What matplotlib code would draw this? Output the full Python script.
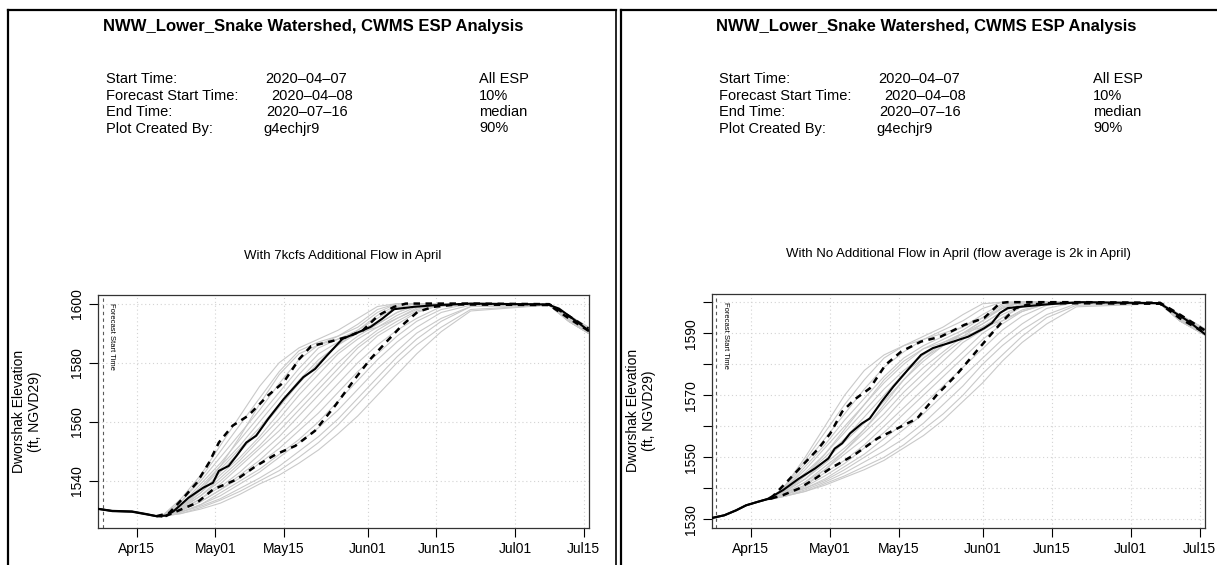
import numpy as np
import pandas as pd
import matplotlib
matplotlib.use("Agg")
import matplotlib.pyplot as plt
import matplotlib.dates as mdates
from matplotlib.lines import Line2D

plt.rcParams['font.family'] = ['Liberation Sans', 'DejaVu Sans']

W, H = 1217, 565
START = pd.Timestamp('2020-04-07')
END = pd.Timestamp('2020-07-16')
FORECAST_DAY = 1  # 2020-04-08

main_title = "NWW_Lower_Snake Watershed, CWMS ESP Analysis"
info_labels = ["Start Time:", "Forecast Start Time:", "End Time:", "Plot Created By:"]
info_values = ["2020\u201304\u201307", "2020\u201304\u201308", "2020\u201307\u201316", "g4echjr9"]
legend_labels = ["All ESP", "10%", "median", "90%"]
xtick_dates = ["2020-04-15", "2020-05-01", "2020-05-15", "2020-06-01",
               "2020-06-15", "2020-07-01", "2020-07-15"]

# ---------------- left panel data (days since 2020-04-07) ----------------
left_title = "With 7kcfs Additional Flow in April"
left_yticks = [1540, 1560, 1580, 1600]

left_obs_days = [0, 3, 7, 10, 12, 13]
left_obs_vals = [1530.6, 1529.9, 1529.7, 1528.8, 1528.1, 1528.0]

left_esp_days = [13, 17, 21, 25, 29, 33, 37, 41, 45, 49, 53, 57, 61, 65, 70, 76, 92, 96, 100]
left_esp = [
    [1528.0, 1534, 1542, 1552, 1562, 1572, 1580, 1585, 1588, 1591, 1595, 1599, 1600, 1600, 1600, 1600, 1599.8, 1596, 1592],
    [1528.0, 1533, 1541, 1550, 1559, 1568, 1577, 1584, 1587, 1589, 1592, 1597, 1600, 1600, 1600, 1600, 1599.8, 1596, 1592],
    [1528.0, 1533, 1540, 1548, 1556, 1564, 1573, 1581, 1586, 1589, 1593, 1598, 1600, 1600, 1600, 1600, 1599.7, 1595.5, 1591.5],
    [1528.0, 1532, 1539, 1546, 1554, 1562, 1570, 1578, 1585, 1588, 1591, 1596, 1599.5, 1600, 1600, 1600, 1599.7, 1595.5, 1591.5],
    [1528.0, 1532, 1538, 1545, 1552, 1560, 1568, 1576, 1583, 1587, 1590, 1594, 1598.5, 1600, 1600, 1600, 1599.6, 1595, 1591],
    [1528.0, 1531.5, 1537, 1544, 1551, 1558, 1566, 1574, 1581, 1586, 1590, 1593, 1597, 1599.5, 1600, 1600, 1599.6, 1595, 1591],
    [1528.0, 1531, 1536, 1543, 1550, 1557, 1565, 1573, 1580, 1586, 1591, 1595, 1599, 1600, 1600, 1600, 1599.6, 1595, 1591],
    [1528.0, 1531, 1536, 1542, 1548, 1555, 1563, 1571, 1578, 1584, 1589, 1593, 1597, 1599.5, 1600, 1600, 1599.6, 1595, 1591],
    [1528.0, 1531, 1535, 1541, 1547, 1554, 1561, 1569, 1576, 1583, 1588, 1592, 1596, 1599, 1600, 1600, 1599.6, 1595, 1591],
    [1528.0, 1530.5, 1535, 1540, 1546, 1552, 1559, 1566, 1573, 1580, 1586, 1591, 1595, 1598.5, 1600, 1600, 1599.5, 1594.5, 1590.5],
    [1528.0, 1530.5, 1534, 1539, 1545, 1551, 1557, 1564, 1571, 1578, 1585, 1590, 1594, 1597.5, 1599.5, 1600, 1599.5, 1594.5, 1590.5],
    [1528.0, 1530, 1534, 1538, 1543, 1549, 1555, 1562, 1569, 1576, 1583, 1589, 1593, 1597, 1599.5, 1600, 1599.5, 1594.5, 1590.5],
    [1528.0, 1530, 1533, 1537, 1542, 1547, 1553, 1559, 1566, 1573, 1580, 1586, 1591, 1595, 1599, 1600, 1599.5, 1594, 1590],
    [1528.0, 1530, 1533, 1537, 1541, 1546, 1551, 1557, 1563, 1570, 1577, 1583, 1589, 1594, 1598, 1600, 1599.5, 1594, 1590],
    [1528.0, 1529.5, 1532, 1536, 1540, 1544, 1549, 1554, 1560, 1567, 1574, 1581, 1587, 1592, 1597, 1599.5, 1599.5, 1594, 1590],
    [1528.0, 1529.5, 1532, 1535, 1539, 1543, 1548, 1553, 1558, 1564, 1571, 1578, 1584, 1590, 1595, 1599, 1599.5, 1594, 1590],
    [1528.0, 1529.5, 1531.5, 1534, 1537.5, 1541, 1545, 1550, 1555, 1561, 1568, 1575, 1582, 1588, 1594, 1599, 1599.5, 1594, 1590],
    [1528.0, 1529, 1531, 1533.5, 1536.5, 1540, 1543.5, 1548, 1553, 1559, 1566, 1573, 1580, 1586, 1592, 1598, 1599.5, 1594, 1590],
    [1528.0, 1529, 1530.5, 1532.5, 1535.5, 1539, 1542, 1546, 1550.5, 1556, 1562, 1569, 1576, 1583, 1590.5, 1597.5, 1599.5, 1594, 1590],
    [1528.0, 1531, 1537, 1545, 1555, 1566, 1576, 1583, 1586, 1588, 1590, 1592, 1595, 1598, 1600, 1600, 1599.7, 1595.5, 1591.5],
]

left_med_days = [0, 3, 7, 10, 12, 14, 15.5, 18.5, 21.5, 23.5, 24.7, 26.7, 28.3, 30.3, 32.3, 34.7,
                 37.9, 41.9, 44.3, 46.7, 49.9, 52.4, 55.6, 58, 60.4, 64.4, 68.4, 76, 91.7, 94, 97.3, 100]
left_med_vals = [1530.6, 1529.8, 1529.6, 1528.7, 1528.1, 1528.3, 1529.8, 1534.3, 1537.7, 1539.4, 1543.4,
                 1545.1, 1548.5, 1553.0, 1555.3, 1560.9, 1567.7, 1575.1, 1577.9, 1582.4, 1588.1, 1589.8,
                 1592.1, 1594.9, 1598.1, 1598.9, 1599.4, 1600.0, 1599.7, 1598.3, 1594.3, 1590.9]

left_p10_days = [12, 14.6, 17.8, 20.2, 22.7, 24.7, 27.5, 30.7, 34.7, 37.9, 41.1, 43.5, 47.5, 50.8,
                 54, 57.2, 60.4, 62.8, 76, 92, 96, 100]
left_p10_vals = [1528.1, 1529.2, 1534.9, 1539.4, 1546.2, 1553.0, 1558.7, 1562.1, 1568.9, 1573.4,
                 1581.3, 1585.6, 1587.2, 1588.7, 1590.9, 1596.0, 1598.9, 1600.0, 1600.0, 1599.8, 1595.8, 1591.5]

left_p90_days = [13.8, 16.2, 20.2, 23.5, 28.3, 32.3, 36.3, 40.3, 44.3, 48.4, 52.4, 55.6, 58.8, 62,
                 65.2, 68.4, 73.3, 92, 96, 100]
left_p90_vals = [1528.1, 1529.8, 1532.6, 1537.1, 1540.5, 1545.1, 1549.0, 1551.9, 1557.0, 1565.5,
                 1574.5, 1581.3, 1587.0, 1592.6, 1597.2, 1598.9, 1599.7, 1599.5, 1595.0, 1590.8]

# ---------------- right panel data ----------------
right_title = "With No Additional Flow in April (flow average is 2k in April)"
right_yticks = [1530, 1540, 1550, 1560, 1570, 1580, 1590, 1600]
right_ylabels = ["1530", "", "1550", "", "1570", "", "1590", ""]

right_obs_days = [0, 2.6, 5, 7, 9.3, 11.3, 12]
right_obs_vals = [1530.4, 1531.3, 1532.9, 1534.5, 1535.6, 1536.5, 1536.6]

right_esp_days = [12, 15, 19, 23, 27, 31, 35, 39, 43, 47, 51, 55, 59, 63, 68, 74, 91, 95, 100]
right_esp = [
    [1536.5, 1541, 1549, 1558, 1567, 1575, 1582, 1586, 1589, 1592, 1596, 1599.5, 1600, 1600, 1600, 1600, 1599.8, 1596, 1591.5],
    [1536.5, 1540.5, 1548, 1556, 1564, 1572, 1579, 1584, 1588, 1591, 1594, 1598, 1600, 1600, 1600, 1600, 1599.8, 1596, 1591.5],
    [1536.5, 1540, 1547, 1554, 1562, 1569, 1576, 1582, 1586, 1589, 1592, 1596, 1599.5, 1600, 1600, 1600, 1599.7, 1595.5, 1591],
    [1536.5, 1540, 1546, 1553, 1560, 1567, 1574, 1580, 1585, 1588, 1591, 1595, 1599, 1600, 1600, 1600, 1599.7, 1595.5, 1591],
    [1536.5, 1539.5, 1545, 1551, 1558, 1565, 1572, 1578, 1583, 1587, 1590, 1594, 1598, 1600, 1600, 1600, 1599.7, 1595, 1590.5],
    [1536.5, 1539.5, 1544, 1550, 1556, 1563, 1570, 1577, 1582, 1586, 1590, 1594, 1598.5, 1600, 1600, 1600, 1599.6, 1595, 1590.5],
    [1536.5, 1539, 1543, 1549, 1555, 1561, 1568, 1575, 1581, 1586, 1590, 1593, 1597, 1599.5, 1600, 1600, 1599.6, 1595, 1590.5],
    [1536.5, 1539, 1543, 1548, 1553, 1559, 1566, 1573, 1579, 1584, 1589, 1593, 1597, 1599.5, 1600, 1600, 1599.6, 1595, 1590],
    [1536.5, 1538.5, 1542, 1547, 1552, 1558, 1564, 1571, 1577, 1583, 1588, 1592, 1596, 1599, 1600, 1600, 1599.6, 1594.5, 1590],
    [1536.5, 1538.5, 1542, 1546, 1551, 1556, 1562, 1569, 1575, 1581, 1587, 1591, 1595, 1598.5, 1600, 1600, 1599.5, 1594.5, 1590],
    [1536.5, 1538.5, 1541, 1545, 1549, 1554, 1560, 1566, 1572, 1578, 1584, 1590, 1594, 1597.5, 1599.5, 1600, 1599.5, 1594.5, 1590],
    [1536.5, 1538, 1540.5, 1544, 1548, 1553, 1558, 1564, 1570, 1576, 1582, 1588, 1593, 1597, 1599.5, 1600, 1599.5, 1594, 1589.5],
    [1536.5, 1538, 1540, 1543, 1547, 1551, 1556, 1561, 1567, 1573, 1579, 1585, 1591, 1595.5, 1599, 1600, 1599.5, 1594, 1589.5],
    [1536.5, 1538, 1540, 1542.5, 1546, 1550, 1554, 1559, 1564, 1570, 1576, 1582, 1588, 1593, 1598, 1600, 1599.5, 1594, 1589.5],
    [1536.5, 1537.5, 1539.5, 1542, 1545, 1548.5, 1552, 1556, 1561, 1567, 1573, 1580, 1586, 1591, 1596, 1599.5, 1599.5, 1594, 1589.5],
    [1536.5, 1537.5, 1539, 1541.5, 1544, 1547, 1550, 1554, 1559, 1564, 1570, 1577, 1583, 1589, 1595, 1599, 1599.5, 1594, 1589.5],
    [1536.5, 1537.5, 1539, 1541, 1543.5, 1546, 1549, 1553, 1557, 1562, 1568, 1574, 1581, 1587, 1593, 1598.5, 1599.5, 1594, 1589.5],
    [1536.5, 1541, 1550, 1560, 1570, 1578, 1583, 1586, 1588, 1590, 1592, 1595, 1598, 1600, 1600, 1600, 1599.7, 1595.5, 1591],
    [1536.5, 1539, 1544, 1551, 1559, 1567, 1575, 1581, 1585, 1587, 1589, 1591, 1595, 1599, 1600, 1600, 1599.7, 1595, 1590.5],
    [1536.5, 1538, 1541, 1546, 1552, 1559, 1567, 1575, 1582, 1587, 1590, 1592, 1594, 1597, 1599.5, 1600, 1599.6, 1595, 1590.5],
]

right_med_days = [0, 2.6, 5, 7, 9.3, 11.3, 14.5, 17.7, 21, 23.7, 25, 26.5, 28.1, 30.5, 32.1, 34.5,
                  36.9, 40.1, 42.5, 44.9, 48.1, 52.1, 55.3, 56.9, 58.5, 60.1, 63.3, 68.8, 75.2,
                  90.8, 93.6, 96.8, 100]
right_med_vals = [1530.4, 1531.3, 1532.9, 1534.5, 1535.6, 1536.5, 1539.4, 1543.1, 1546.4, 1549.6,
                  1552.8, 1554.5, 1557.7, 1560.9, 1562.5, 1567.9, 1572.8, 1578.7, 1583.0, 1585.2,
                  1586.8, 1588.9, 1591.6, 1593.3, 1596.5, 1598.1, 1598.6, 1599.4, 1600.0, 1599.7,
                  1597.0, 1593.8, 1589.8]

right_p10_days = [12, 15.3, 18.5, 21.7, 24.1, 26.5, 28.9, 32.1, 35.3, 38.5, 42.5, 46.5, 51.3,
                  55.3, 58.5, 60, 76, 91, 95, 100]
right_p10_vals = [1536.7, 1542.1, 1547.5, 1552.8, 1557.7, 1564.7, 1568.5, 1572.2, 1579.8, 1584.1,
                  1587.3, 1588.9, 1592.7, 1594.9, 1599.7, 1600.0, 1600.0, 1599.8, 1596.0, 1591.0]

right_p90_days = [12.1, 14.5, 17.7, 21, 24.1, 28.9, 33.7, 37.7, 41.7, 45.7, 49.7, 53.7, 56.9,
                  59.3, 61.7, 64.1, 68.8, 91, 95, 100]
right_p90_vals = [1536.7, 1537.8, 1539.9, 1543.1, 1546.4, 1550.7, 1556.1, 1559.3, 1562.5, 1570.1,
                  1576.6, 1584.1, 1590.0, 1594.3, 1598.1, 1599.2, 1599.7, 1599.5, 1594.8, 1590.2]


def to_dates(days):
    return START + pd.to_timedelta(np.asarray(days, dtype=float), unit='D')


def fx(px):
    return px / W


def fy(py):
    return 1 - py / H


fig = plt.figure(figsize=(W / 100, H / 100), dpi=100)

# panel frames (two images side by side)
for x0, x1 in [(8, 616), (621, 1217)]:
    fig.add_artist(Line2D([fx(x0), fx(x0)], [fy(10), 0], color='black', lw=1.6))
    fig.add_artist(Line2D([fx(x0), fx(x1)], [fy(10), fy(10)], color='black', lw=1.6))
fig.add_artist(Line2D([fx(616), fx(616)], [fy(10), 0], color='black', lw=1.2))


def header(xoff, col3):
    fig.text(fx(xoff + 313), fy(27), main_title, ha='center', va='center',
             fontsize=12, fontweight='bold')
    rows = [79, 95.5, 112, 128.5]
    val_x = [265, 271, 266.5, 263.5]
    for i in range(4):
        fig.text(fx(xoff + 106), fy(rows[i]), info_labels[i], ha='left', va='center', fontsize=10.5)
        fig.text(fx(xoff + val_x[i]), fy(rows[i]), info_values[i], ha='left', va='center', fontsize=10.5)
        fig.text(fx(col3), fy(rows[i]), legend_labels[i], ha='left', va='center', fontsize=10.5)


header(0, 479)
header(613, 1093)


def panel(rect, title, ylim, yticks, ylabels, grid_y, obs, esp_days, esp, med, p10, p90, ylab_x):
    ax = fig.add_axes(rect)
    ax.set_xlim(START, END)
    ax.set_ylim(*ylim)
    # grid
    for d in xtick_dates:
        ax.axvline(pd.Timestamp(d), color='#d3d3d3', lw=0.8, ls=(0, (1, 2.5)), zorder=0)
    for v in grid_y:
        ax.axhline(v, color='#d3d3d3', lw=0.8, ls=(0, (1, 2.5)), zorder=0)
    # ensemble traces
    for tr in esp:
        ax.plot(to_dates(esp_days), tr, color='#c9c9c9', lw=0.8, zorder=1)
    ax.plot(to_dates(obs[0]), obs[1], color='black', lw=1.5, zorder=4)
    ax.plot(to_dates(p10[0]), p10[1], color='black', lw=1.8, dashes=(2.6, 2.2), zorder=3)
    ax.plot(to_dates(p90[0]), p90[1], color='black', lw=1.8, dashes=(2.6, 2.2), zorder=3)
    ax.plot(to_dates(med[0]), med[1], color='black', lw=1.5, zorder=4)
    # forecast start
    ax.axvline(START + pd.Timedelta(days=FORECAST_DAY), color='0.35', lw=0.8,
               ls=(0, (3, 3)), zorder=2)
    ax.text(START + pd.Timedelta(days=2.9), ylim[1] - 0.035 * (ylim[1] - ylim[0]),
            "Forecast Start Time", rotation=-90, ha='center', va='top', fontsize=5.5)

    ax.set_xticks([pd.Timestamp(d) for d in xtick_dates])
    ax.xaxis.set_major_formatter(mdates.DateFormatter('%b%d'))
    ax.set_yticks(yticks)
    ax.set_yticklabels(ylabels)
    ax.tick_params(direction='out', length=6.5, width=0.8, labelsize=10, pad=3.5)
    for lab in ax.get_yticklabels():
        lab.set_rotation(90)
        lab.set_va('center')
    for s in ax.spines.values():
        s.set_linewidth(0.9)
        s.set_color('0.2')
    ax.set_title(title, fontsize=9.5, pad=26)
    y_mid = rect[1] + rect[3] / 2
    fig.text(fx(ylab_x), y_mid, "Dworshak Elevation\n(ft, NGVD29)", rotation=90,
             ha='center', va='center', fontsize=10, linespacing=1.15)
    return ax


panel([fx(97.6), fy(528), fx(588.5) - fx(97.6), fy(295) - fy(528)], left_title,
      (1524.1, 1602.9), left_yticks, [str(v) for v in left_yticks], left_yticks,
      (left_obs_days, left_obs_vals), left_esp_days, left_esp,
      (left_med_days, left_med_vals), (left_p10_days, left_p10_vals),
      (left_p90_days, left_p90_vals), 27)

panel([fx(711.5), fy(528), fx(1204.5) - fx(711.5), fy(293.5) - fy(528)], right_title,
      (1527.2, 1602.8), right_yticks, right_ylabels, right_yticks,
      (right_obs_days, right_obs_vals), right_esp_days, right_esp,
      (right_med_days, right_med_vals), (right_p10_days, right_p10_vals),
      (right_p90_days, right_p90_vals), 641)

fig.savefig('out.png', dpi=100)
